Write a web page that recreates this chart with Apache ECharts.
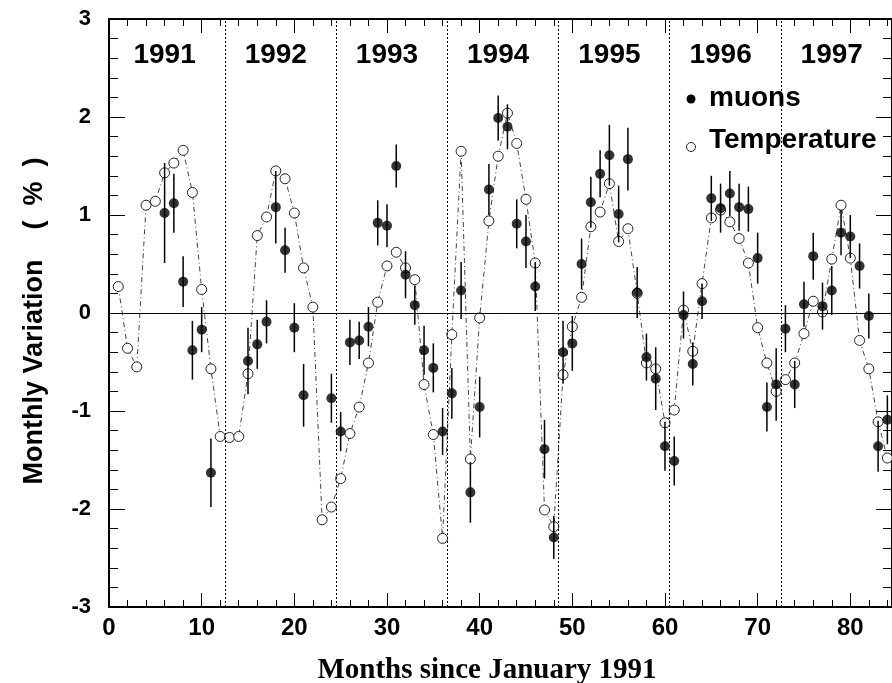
<!DOCTYPE html>
<html>
<head>
<meta charset="utf-8">
<script src="https://cdn.jsdelivr.net/npm/echarts@6/dist/echarts.min.js"></script>
<style>
html,body{margin:0;padding:0;background:#fff;}
#chart{width:892px;height:683px;}
</style>
</head>
<body>
<div id="chart"></div>
<script>
// Year captions shown above each 12-month block
const years = ['1991', '1992', '1993', '1994', '1995', '1996', '1997'];

// Monthly temperature variation (%), open circles joined by dash-dot line
const tempMonths = [1, 2, 3, 4, 5, 6, 7, 8, 9, 10, 11, 12, 13, 14, 15, 16, 17, 18, 19, 20,
  21, 22, 23, 24, 25, 26, 27, 28, 29, 30, 31, 32, 33, 34, 35, 36, 37, 38, 39, 40,
  41, 42, 43, 44, 45, 46, 47, 48, 49, 50, 51, 52, 53, 54, 55, 56, 57, 58, 59, 60,
  61, 62, 63, 64, 65, 66, 67, 68, 69, 70, 71, 72, 73, 74, 75, 76, 77, 78, 79, 80,
  81, 82, 83, 84];
const tempValues = [0.27, -0.36, -0.55, 1.10, 1.14, 1.43, 1.53, 1.66, 1.23, 0.24,
  -0.57, -1.26, -1.27, -1.26, -0.62, 0.79, 0.98, 1.45, 1.37, 1.02,
  0.46, 0.06, -2.11, -1.98, -1.69, -1.23, -0.96, -0.51, 0.11, 0.48,
  0.62, 0.46, 0.34, -0.73, -1.24, -2.30, -0.22, 1.65, -1.49, -0.05,
  0.94, 1.60, 2.04, 1.73, 1.16, 0.51, -2.01, -2.18, -0.63, -0.14,
  0.16, 0.88, 1.03, 1.32, 0.73, 0.86, 0.20, -0.51, -0.57, -1.12,
  -0.99, 0.03, -0.39, 0.30, 0.97, 1.05, 0.93, 0.76, 0.51, -0.15,
  -0.51, -0.80, -0.68, -0.51, -0.21, 0.12, 0.01, 0.55, 1.10, 0.56,
  -0.28, -0.57, -1.11, -1.48];

// Monthly muon rate variation (%), filled dots with statistical errors
const muonMonths = [6, 7, 8, 9, 10, 11, 15, 16, 17, 18, 19, 20, 21, 24, 25, 26, 27, 28, 29, 30,
  31, 32, 33, 34, 35, 36, 37, 38, 39, 40, 41, 42, 43, 44, 45, 46, 47, 48, 49, 50,
  51, 52, 53, 54, 55, 56, 57, 58, 59, 60, 61, 62, 63, 64, 65, 66, 67, 68, 69, 70,
  71, 72, 73, 74, 75, 76, 77, 78, 79, 80, 81, 82, 83, 84];
const muonValues = [1.02, 1.12, 0.32, -0.38, -0.17, -1.63, -0.49, -0.32, -0.09, 1.08,
  0.64, -0.15, -0.84, -0.87, -1.21, -0.30, -0.28, -0.14, 0.92, 0.89,
  1.50, 0.39, 0.08, -0.38, -0.56, -1.21, -0.82, 0.23, -1.83, -0.96,
  1.26, 1.99, 1.90, 0.91, 0.73, 0.27, -1.39, -2.29, -0.40, -0.31,
  0.50, 1.13, 1.42, 1.61, 1.01, 1.57, 0.21, -0.45, -0.67, -1.36,
  -1.51, -0.02, -0.52, 0.12, 1.17, 1.07, 1.22, 1.08, 1.06, 0.56,
  -0.96, -0.73, -0.16, -0.73, 0.09, 0.58, 0.07, 0.23, 0.82, 0.78,
  0.48, -0.03, -1.36, -1.09];
const muonErrors = [0.51, 0.30, 0.26, 0.30, 0.23, 0.35, 0.34, 0.25, 0.22, 0.37,
  0.23, 0.25, 0.32, 0.25, 0.20, 0.23, 0.19, 0.20, 0.23, 0.22,
  0.22, 0.24, 0.20, 0.25, 0.25, 0.24, 0.26, 0.29, 0.31, 0.31,
  0.26, 0.23, 0.23, 0.25, 0.27, 0.25, 0.30, 0.22, 0.32, 0.28,
  0.26, 0.26, 0.24, 0.31, 0.29, 0.32, 0.26, 0.24, 0.32, 0.25,
  0.25, 0.24, 0.22, 0.18, 0.23, 0.25, 0.23, 0.24, 0.23, 0.26,
  0.25, 0.37, 0.24, 0.24, 0.23, 0.24, 0.24, 0.25, 0.23, 0.22,
  0.23, 0.23, 0.26, 0.25];

const SANS = 'Liberation Sans, Arial, Helvetica, sans-serif';
const SERIF = 'Liberation Serif, Times New Roman, serif';

const tempData = tempMonths.map((m, i) => [m, tempValues[i]]);
const muonData = muonMonths.map((m, i) => [m, muonValues[i]]);
const errData = muonMonths.map((m, i) => [m, muonValues[i], muonErrors[i]]);
const yearData = years.map((y, i) => [12 * i + 6, 2.63, y]);
const yearBounds = years.slice(1).map((y, i) => ({ xAxis: 12 * (i + 1) + 0.5 }));

const xCommon = {
  type: 'value', min: 0, max: 84.5, interval: 10,
  axisLine: { show: true, onZero: false, lineStyle: { color: '#000', width: 2 } },
  axisTick: { show: true, inside: true, length: 14, lineStyle: { color: '#000', width: 1 } },
  minorTick: { show: true, splitNumber: 5, length: 7, lineStyle: { color: '#000', width: 1 } },
  splitLine: { show: false }, minorSplitLine: { show: false }
};
const yCommon = {
  type: 'value', min: -3, max: 3, interval: 1,
  axisLine: { show: true, onZero: false, lineStyle: { color: '#000', width: 2 } },
  axisTick: { show: true, inside: true, length: 16, lineStyle: { color: '#000', width: 1 } },
  minorTick: { show: true, splitNumber: 5, length: 9, lineStyle: { color: '#000', width: 1 } },
  splitLine: { show: false }, minorSplitLine: { show: false }
};

const chart = echarts.init(document.getElementById('chart'), null, { renderer: 'canvas' });
chart.setOption({
  animation: false,
  backgroundColor: '#fff',
  grid: { left: 109, right: 0, top: 19, bottom: 76, containLabel: false, outerBoundsMode: 'none' },
  xAxis: [
    Object.assign({}, xCommon, {
      position: 'bottom',
      axisLabel: {
        show: true, margin: 9, color: '#000', fontSize: 24, fontWeight: 'bold', fontFamily: SANS,
        formatter: v => (v % 10 === 0 ? String(v) : '')
      }
    }),
    Object.assign({}, xCommon, { position: 'top', axisLabel: { show: false } })
  ],
  yAxis: [
    Object.assign({}, yCommon, {
      position: 'left',
      axisLabel: { show: true, margin: 18, color: '#000', fontSize: 22, fontWeight: 'bold', fontFamily: SANS }
    }),
    Object.assign({}, yCommon, { position: 'right', axisLabel: { show: false } })
  ],
  series: [
    {
      name: 'Temperature', type: 'line', data: tempData, z: 2,
      symbol: 'circle', symbolSize: 10, showAllSymbol: true,
      itemStyle: { color: '#fff', borderColor: '#222', borderWidth: 1 },
      lineStyle: { color: '#444', width: 1, type: [5, 3, 1, 3] },
      markLine: {
        silent: true, symbol: 'none', label: { show: false },
        lineStyle: { color: '#000', width: 1, type: [2, 2] },
        data: yearBounds.concat([{ yAxis: 0, lineStyle: { type: 'solid', width: 1, color: '#000' } }])
      }
    },
    {
      name: 'errors', type: 'custom', data: errData, z: 3,
      encode: { x: 0, y: 1 },
      renderItem: (params, api) => {
        const x = api.value(0), v = api.value(1), e = api.value(2);
        const p1 = api.coord([x, v - e]);
        const p2 = api.coord([x, v + e]);
        return { type: 'line', shape: { x1: p1[0], y1: p1[1], x2: p2[0], y2: p2[1] },
          style: { stroke: '#000', lineWidth: 1.5 } };
      }
    },
    {
      name: 'muons', type: 'scatter', data: muonData, z: 4,
      symbol: 'circle', symbolSize: 10, itemStyle: { color: '#000' }
    },
    {
      name: 'years', type: 'scatter', data: yearData, z: 5, symbolSize: 0, silent: true,
      itemStyle: { color: '#000', opacity: 1 },
      label: {
        show: true, position: 'inside', formatter: p => p.data[2],
        color: '#000', fontSize: 28, fontWeight: 'bold', fontFamily: SANS,
        textBorderWidth: 0, textBorderColor: 'transparent', opacity: 1
      }
    }
  ],
  graphic: [
    { type: 'circle', shape: { cx: 691, cy: 99, r: 4.5 }, style: { fill: '#000' }, z: 10 },
    { type: 'text', x: 709, y: 98.5, z: 10,
      style: { text: 'muons', fill: '#000', font: 'bold 28px ' + SANS, textAlign: 'left', textVerticalAlign: 'middle' } },
    { type: 'circle', shape: { cx: 691, cy: 147, r: 4.5 }, style: { fill: '#fff', stroke: '#222', lineWidth: 1 }, z: 10 },
    { type: 'text', x: 709, y: 140, z: 10,
      style: { text: 'Temperature', fill: '#000', font: 'bold 28px ' + SANS, textAlign: 'left', textVerticalAlign: 'middle' } },
    { type: 'text', x: 35, y: 321, rotation: Math.PI / 2, z: 10,
      style: { text: 'Monthly Variation    (  %  )', fill: '#000', font: 'bold 27px ' + SANS,
        textAlign: 'center', textVerticalAlign: 'middle' } },
    { type: 'text', x: 487, y: 671, z: 10,
      style: { text: 'Months since January 1991', fill: '#000', font: 'bold 29px ' + SERIF,
        textAlign: 'center', textVerticalAlign: 'middle' } }
  ]
});
</script>
</body>
</html>
